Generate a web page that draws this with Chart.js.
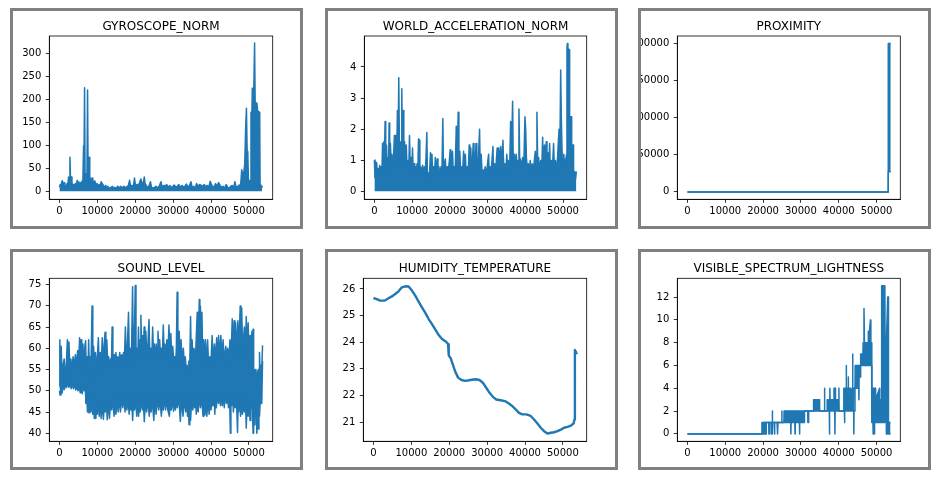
<!DOCTYPE html>
<html><head><meta charset="utf-8">
<script src="https://cdn.jsdelivr.net/npm/chart.js@4/dist/chart.umd.min.js"></script>
<style>
html,body{margin:0;padding:0;background:#fff;width:943px;height:482px;overflow:hidden;}
.panel{position:absolute;box-sizing:border-box;width:293px;height:221px;border:3px solid #808080;overflow:hidden;background:#fff}
.panel canvas{display:block}
</style></head><body>
<div class="panel" style="left:10px;top:8px"><canvas id="c1" width="287" height="215"></canvas></div>
<div class="panel" style="left:325px;top:8px"><canvas id="c2" width="287" height="215"></canvas></div>
<div class="panel" style="left:638px;top:8px"><canvas id="c3" width="287" height="215"></canvas></div>
<div class="panel" style="left:10px;top:249px"><canvas id="c4" width="287" height="215"></canvas></div>
<div class="panel" style="left:325px;top:249px"><canvas id="c5" width="287" height="215"></canvas></div>
<div class="panel" style="left:638px;top:249px"><canvas id="c6" width="287" height="215"></canvas></div>
<script>
// ---------- DATA ----------
const titles = ['GYROSCOPE_NORM','WORLD_ACCELERATION_NORM','PROXIMITY','SOUND_LEVEL','HUMIDITY_TEMPERATURE','VISIBLE_SPECTRUM_LIGHTNESS'];
const xTicks = [0,10000,20000,30000,40000,50000];

const gyroTicks = [0,50,100,150,200,250,300];
const gyroBase = 1.5;
const gyroX = [0,200,400,600,800,1000,1200,1400,1600,1800,
2000,2200,2400,2600,2770,2900,3100,3300,3500,3700,
3900,4200,4400,4700,4900,5100,5300,5600,5800,6000,
6200,6370,6450,6630,6750,6900,7100,7250,7420,7550,
7700,7850,8000,8200,8400,8600,8800,9000,9300,9600,
9900,10200,10500,10800,11000,11300,11600,11900,12200,12500,
12800,13200,13600,14000,14300,14600,15000,15400,15800,16200,
16600,17000,17400,17800,18200,18500,18800,19200,19500,19800,
20100,20500,20900,21200,21500,21800,22100,22400,22600,22900,
23200,23600,24000,24300,24700,25100,25500,25900,26300,26800,
27100,27500,27900,28300,28700,29100,29500,29900,30300,30700,
31100,31500,31900,32300,32700,33100,33500,33900,34300,34700,
35000,35400,35800,36200,36600,37000,37400,37800,38200,38600,
39000,39400,39800,40100,40400,40800,41200,41600,42000,42400,
42800,43200,43600,44000,44400,44800,45200,45600,46000,46300,
46600,47000,47400,47800,48100,48400,48700,48900,49150,49350,
49550,49700,49850,50100,50400,50550,50800,50900,51300,51500,
51650,52100,52300,52850,52950,53150,53300,53450];
const gyroY = [10,16,8,22,24,12,20,8,14,10,
18,12,32,30,75,34,32,20,12,16,
10,18,12,25,15,22,14,20,16,24,
30,100,40,225,40,30,36,30,220,45,
50,75,32,28,25,30,22,20,24,16,
18,12,16,14,22,18,14,10,14,8,
12,7,10,12,6,10,8,12,9,12,
8,12,9,11,14,25,12,14,10,30,
12,16,14,22,28,14,20,32,18,14,
10,12,22,10,8,10,12,8,12,22,
10,14,12,16,10,14,9,12,15,10,
12,16,10,14,11,12,17,10,14,22,
10,12,8,18,12,16,14,12,16,11,
14,10,23,16,12,10,18,12,20,14,
10,12,8,16,10,8,12,14,8,22,
12,10,15,12,48,35,45,60,140,181,
80,88,30,20,25,172,172,224,224,322,
192,192,175,172,15,8,12,10];

const accTicks = [0,1,2,3,4];
const accBase = 0.02;
const accX = [0,150,300,450,600,800,1000,1200,1400,1600,
1800,2000,2150,2300,2500,2650,2830,3000,3200,3400,
3600,3750,3900,4050,4250,4450,4650,4850,5050,5300,
5450,5700,5900,6100,6250,6460,6650,6850,7050,7260,
7450,7650,7800,8000,8200,8450,8650,8900,9100,9300,
9500,9700,9900,10100,10300,10500,10700,10900,11100,11300,
11500,11700,11900,12050,12300,12550,12800,13000,13300,13500,
13900,14050,14300,14550,14870,15050,15250,15450,15700,15900,
16150,16400,16650,16850,17100,17350,17650,17900,18140,18300,
18550,18800,19000,19250,19500,19800,20090,20250,20500,20700,
20900,21150,21400,21700,21900,22210,22400,22650,22850,23100,
23350,23650,23850,24100,24350,24600,24850,25130,25300,25550,
25750,26000,26200,26400,26700,26950,27150,27500,27880,28050,
28300,28550,28800,29050,29350,29600,29900,30270,30450,30700,
30950,31420,31600,31850,32100,32550,32750,33000,33250,33500,
33750,34070,34300,34550,34800,35100,35350,35600,35850,36110,
36300,36640,36800,37100,37350,37600,37850,38100,38320,38500,
38750,39000,39300,39600,39910,40100,40300,40550,40800,41050,
41300,41550,41850,42100,42400,42650,42850,43090,43300,43550,
43800,44100,44350,44600,44800,45100,45300,45550,45750,46000,
46200,46450,46650,46900,47150,47500,47700,48000,48300,48600,
48940,49150,49380,49550,49700,49800,50000,50200,50450,50700,
50950,51050,51150,51300,51600,51700,51800,52200,52300,52700,
52800,53100,53300,53540];
const accY = [1.02,0.45,0.97,0.5,0.93,0.55,0.75,0.45,0.85,0.5,
0.8,0.6,1.55,0.7,1.6,0.9,2.25,0.7,1.5,0.8,
1.1,0.7,2.2,0.9,1.55,0.8,1.2,0.7,1.0,1.8,
0.9,1.8,1.0,2.6,1.1,3.65,1.0,1.6,0.9,3.3,
1.0,2.6,1.0,1.6,0.9,1.5,0.7,1.0,0.6,1.8,
0.8,1.1,0.5,1.4,0.6,0.9,0.5,0.8,0.6,0.9,
0.6,1.7,1.65,0.6,0.8,0.5,0.85,0.6,0.8,0.5,
1.9,0.5,0.6,0.45,1.25,0.6,1.2,0.5,0.8,0.5,
1.1,0.6,1.05,0.55,0.8,0.5,0.8,0.6,2.35,0.6,
0.9,1.05,0.55,0.8,0.6,0.9,1.35,0.6,1.0,1.3,
0.6,0.8,0.55,2.1,0.8,2.55,0.8,1.3,0.55,0.8,
0.55,1.3,0.7,1.2,0.5,0.8,0.5,1.5,0.7,1.4,
0.6,1.0,1.55,0.7,1.0,1.55,0.7,0.9,2.0,0.7,
1.2,0.6,0.7,0.5,0.8,0.55,0.8,1.2,0.55,0.8,
0.6,1.45,0.6,0.9,0.6,1.4,0.7,1.4,0.8,1.45,
0.7,1.65,0.7,0.9,0.6,1.2,0.7,1.0,0.7,2.25,
1.0,2.9,1.0,1.2,0.8,1.2,0.8,1.0,2.65,1.1,
1.0,0.8,1.1,0.8,2.4,2.0,1.1,0.7,0.9,0.6,
1.0,0.6,0.9,0.6,1.0,1.3,0.7,2.55,0.8,1.1,
0.6,1.0,0.7,1.75,0.8,1.5,0.7,1.6,0.8,1.25,
0.7,1.55,0.6,1.0,0.6,1.55,0.8,1.0,0.6,1.2,
2.0,1.0,3.9,2.4,2.4,1.0,0.9,1.2,0.8,1.0,
1.2,4.6,4.75,4.6,4.55,4.4,2.4,2.4,1.5,1.5,
0.6,0.65,0.4,0.65];

const proxTicks = [0,50000,100000,150000,200000];
const proxX = [0,53050,53100,53750];
const proxHi = [0,0,200000,200000];
const proxLo = [0,0,27000,27000];

const soundTicks = [40,45,50,55,60,65,70,75];
const soundHiX = [0,100,250,450,700,950,1250,1500,1800,2100,
2300,2500,2750,3000,3300,3600,3900,4200,4500,4800,
5100,5310,5500,5700,5900,6200,6400,6700,6900,7100,
7300,7500,7700,7900,8100,8300,8600,8800,9000,9250,
9500,9750,10000,10270,10500,10750,11000,11300,11500,11750,
12040,12250,12500,12750,13000,13250,13500,13700,13900,14100,
14400,14650,14900,15150,15400,15650,15900,16150,16400,16650,
16900,17100,17400,17650,17900,18230,18450,18700,19000,19300,
19500,19750,20000,20200,20450,20700,20850,21050,21300,21500,
21700,21950,22150,22350,22550,22800,23050,23300,23630,23850,
24100,24350,24600,24850,25050,25300,25550,25800,26000,26250,
26450,26700,26900,27150,27400,27650,27850,28100,28350,28600,
28900,29150,29400,29650,29900,30150,30400,30650,30850,31060,
31250,31600,31850,32100,32350,32700,32950,33200,33450,33700,
33950,34150,34400,34600,34800,35000,35250,35500,35750,36000,
36370,36550,36700,36900,37050,37200,37400,37600,37800,38000,
38250,38500,38750,39100,39350,39700,39950,40300,40550,40900,
41150,41500,41750,42000,42300,42600,42850,43200,43450,43900,
44150,44400,44700,45000,45300,45600,45850,46100,46300,46500,
46750,47100,47350,47700,47900,48100,48350,48800,49050,49300,
49550,49800,50050,50300,50550,50800,51000,51100,51250,51400,
51600,51850,52100,52300,52500,52700,52800,53000,53200,53400,
53600];
const soundHi = [51,62,53,60.5,53,56,57.5,53.5,56,62,
54,61.5,55,57.5,55,58,55.5,58.5,56,59.5,
56.5,62.5,57,62,57,61,55,60.5,61.8,54,
58,52,62,55,58,54,70,56,60.5,56,
59,55,58,62.5,55,59,56,62.5,56,60,
63.8,57,62,56,58,55,57.5,55,65,56,
58.5,56,59,56,58,56,59,56.5,58.5,57,
59,56,65,57,60,68.5,57,60,58,74.5,
58,61,74.8,57,60,58,65,58,62,67.8,
58,63,58,65,58,64,58,60,66.8,58,
60,57,65,58,61,57,61,58,64,58,
62,57,60,58,65.5,58,61,57,62,58,
65.5,58,63.5,57,60.5,57,58,56,60,73.2,
57,64,57,62,57,60,56,58,55,56,
55,57,56,67.5,57,62,57,60,57,60,
68.5,58,62,71.5,60,70,60,68.5,58,62,
57,62,57,62,56,58,56,63,57,61,
57,62.5,57,63,58,63,58,62,57,60.5,
57,60,57,62,58,67,59,66.5,59,66,
59,66.5,59,70,60,69.5,59,65,58,67.5,
58,66,57,63,57,64,57,64.5,55,55,
52,55,50.5,54.5,55,50,59,52,56,55,
60.7];
const soundLoX = [0,150,400,700,1000,1300,1600,1900,2200,2500,
2800,3100,3400,3700,4000,4300,4600,4900,5200,5500,
5800,6000,6300,6600,6800,7000,7200,7400,7600,7800,
8000,8300,8600,8800,9000,9200,9400,9600,9800,10000,
10300,10500,10800,11000,11300,11600,11900,12100,12400,12600,
12900,13200,13500,13800,14100,14400,14700,14900,15200,15500,
15800,16100,16400,16700,17000,17300,17600,17800,18100,18400,
18700,18900,19100,19300,19600,19800,20100,20400,20700,20900,
21100,21300,21600,21900,22100,22400,22700,23000,23300,23700,
24000,24200,24500,24900,25200,25500,25800,26200,26500,26900,
27200,27400,27700,28000,28300,28600,29000,29300,29500,29800,
30100,30400,30600,30900,31100,31500,31900,32200,32600,32900,
33300,33600,33800,34000,34200,34400,34600,34900,35200,35500,
35700,36000,36100,36400,36600,36900,37200,37500,37900,38100,
38400,38700,38900,39200,39500,39800,40000,40300,40500,40800,
41000,41200,41400,41700,42000,42300,42500,42800,43000,43300,
43500,43800,44100,44400,44600,44900,45100,45250,45400,45700,
45900,46200,46400,46700,47000,47150,47300,47600,47800,48100,
48300,48600,48800,49100,49300,49500,49800,50100,50300,50500,
50700,50900,51100,51250,51400,51600,51800,51950,52100,52300,
52500,52650,52800,53000,53100,53300,53400,53600];
const soundLo = [50,49,50.5,49.5,51,50.3,51.5,50.8,52,50.8,
52,50.5,51.5,50.5,51.5,50.2,51,50,51,49.5,
50.5,49.3,51,50,51,47,49,45,48,44.8,
48,45,48,44.5,47.5,43.5,47,43.5,47.5,44.5,
48,44,47.5,43.5,47,43.3,47.5,45,48,43.2,
47.5,43.5,47.5,45.5,48.5,44,48,44.5,48,45,
48.5,45,48.5,46,49,45,48.5,45.5,48.5,44.5,
48,45.5,48,43,48,45.5,48,44,47.5,44,
48,45,48,45.5,48,42.7,48,45,48,44,
48,45,48,43,48,44.5,48,45.5,48,44,
48,45.5,48.5,45.5,48,45.5,44,48,45.5,48.5,
45.2,48.5,45.5,48.5,46,48.5,42.8,48,44,48,
45,48,44,47.5,42,47,43,48,45.5,48.5,
46,48.5,44.5,48.5,45,49,46,48.5,44,48,
44.3,48,44,48,44.5,48.5,45.5,48.5,46.5,49,
44.5,48.5,46,49,47,49.5,46.5,49.5,46.5,49.5,
46,49.5,47,49.5,46,49,40,48,46.5,49,
45,49,46,48.5,40.2,47,45,48.5,44,48,
44.5,48,45,48,41.2,47,44,47.5,43,47,
46,47,40,45,42,46,44,46,40,45,
41,46,44,48,47,49,47,57];

const humTicks = [21,22,23,24,25,26];
const humX = [0,880,1770,2910,3970,4860,5740,6620,7500,8390,
9270,10150,11040,11920,12800,13690,14570,15450,16340,17220,
18100,19160,19690,19870,20400,20930,21630,22340,23220,24280,
25610,26930,27990,28870,29760,30640,31520,32410,33550,34700,
35760,36650,37530,38410,39290,40350,41500,42380,43270,44150,
45030,45920,46800,47680,48570,49450,50330,51210,52100,52800,
53070,53160,53420,53690];
const humY = [25.66,25.62,25.56,25.56,25.65,25.72,25.81,25.91,26.06,26.1,
26.09,25.94,25.75,25.52,25.31,25.1,24.87,24.68,24.47,24.27,
24.12,24.02,23.93,23.51,23.39,23.17,22.88,22.67,22.58,22.55,
22.58,22.61,22.58,22.48,22.29,22.1,21.95,21.85,21.82,21.79,
21.7,21.6,21.48,21.35,21.29,21.29,21.23,21.1,20.95,20.79,
20.66,20.57,20.6,20.62,20.66,20.72,20.79,20.82,20.87,20.95,
21.1,23.71,23.64,23.55];

const visTicks = [0,2,4,6,8,10,12];
const visHiX = [0,19650,19700,22400,22450,22500,24900,24950,25000,25500,
25550,33300,33350,34900,34950,36200,36240,36300,36900,36950,
37600,37660,37720,38700,38750,39100,39150,40000,40050,40100,
41300,41350,41950,41990,42050,42500,42520,42580,43100,43150,
43600,43670,43750,44300,44350,45300,45350,45750,45800,46400,
46450,46680,46800,47750,47800,47850,48400,48500,48700,48750,
49700,49750,50800,50850,51300,51350,52200,52250,52600,52950,
53100,53150,53700];
const visHi = [0,0,1,1,2,1,1,2,1,1,
2,2,3,3,2,2,4,2,2,3,
3,4,3,3,4,4,3,3,4,2,
2,4,4,6,4,4,5,4,4,3,
4,7,4,4,6,6,5,5,7,7,
8,11,8,8,9,8,10,8,8,4,
4,3,4,3,3,13,13,8,8,12,
12,1,1];
const visLoX = [0,19650,19700,20300,20350,20550,20600,20800,20850,21500,
21550,21700,21750,22200,22250,22400,22450,22900,22950,23100,
23150,23700,23750,23900,23950,27300,27350,27400,28400,28450,
28500,29600,29650,29700,30900,30950,31800,31850,32000,32050,
37500,37550,37600,38950,39000,39050,41500,41550,41600,43950,
44000,44050,44300,45300,45350,45400,48700,48750,49050,49100,
49150,49400,49450,49500,51300,52200,52250,52550,52600,52900,
53100,53150,53700];
const visLo = [0,0,0,0,1,1,0,0,1,1,
0,0,1,1,0,0,1,1,0,0,
1,1,0,0,1,1,0,1,1,0,
1,1,0,1,1,2,2,1,1,2,
2,0,2,2,0,2,2,1,2,2,
0,2,4,4,3,6,6,1,1,0,
1,1,0,1,1,1,3,3,0,0,
0,0,0];

// ---------- RENDERING ----------
const BLUE = '#1f77b4';
const FONT = "'DejaVu Sans', sans-serif";
const xMin = -2680, xMax = 56280;
const pts = (xs, ys) => xs.map((x, i) => ({x: x, y: ys[i]}));

const framePlugin = {
  id: 'frame',
  afterDraw(chart) {
    const a = chart.chartArea, ctx = chart.ctx;
    ctx.save();
    ctx.strokeStyle = '#000';
    ctx.lineWidth = 0.8;
    ctx.strokeRect(a.left, a.top, a.right - a.left, a.bottom - a.top);
    ctx.restore();
  }
};

function axis(min, max, ticks, isX, size) {
  return {
    type: 'linear', min: min, max: max,
    afterBuildTicks: s => { s.ticks = ticks.map(v => ({value: v})); },
    afterFit: s => { if (isX) s.height = size; else s.width = size; },
    grid: { display: true, drawOnChartArea: false, drawTicks: true, tickLength: 3.5, tickWidth: 0.8, tickColor: '#000' },
    border: { display: true, color: '#000', width: 0.8 },
    ticks: { color: '#000', font: { family: FONT, size: 10 }, padding: isX ? 3 : 4.5,
             maxRotation: 0, minRotation: 0, autoSkip: false, callback: v => String(v) }
  };
}

function lineDs(data, extra) {
  return Object.assign({ data: data, borderColor: BLUE, backgroundColor: BLUE, borderWidth: 1.5,
    pointRadius: 0, tension: 0, borderJoinStyle: 'round', fill: false }, extra || {});
}

function makeChart(id, title, row, yMin, yMax, yTicks, datasets, yW, rPad) {
  const tTop = row === 0 ? 8.5 : 10.1;
  const tBot = row === 0 ? 2.1 : 1.8;
  const xH = row === 0 ? 26.7 : 25.7;
  new Chart(document.getElementById(id), {
    type: 'line',
    data: { datasets: datasets },
    options: {
      responsive: false, animation: false, events: [],
      layout: { padding: { left: 0, right: rPad, top: 0, bottom: 0 } },
      plugins: {
        legend: { display: false }, tooltip: { enabled: false },
        title: { display: true, text: title, fullSize: false, color: '#000',
                 font: { family: FONT, size: 12, weight: 'normal', lineHeight: 1.2 },
                 padding: { top: tTop, bottom: tBot } }
      },
      scales: {
        x: axis(xMin, xMax, xTicks, true, xH),
        y: axis(yMin, yMax, yTicks, false, yW)
      }
    },
    plugins: [framePlugin]
  });
}

makeChart('c1', titles[0], 0, -16, 337, gyroTicks,
  [lineDs(pts(gyroX, gyroY), { fill: { value: gyroBase } })], 36.3, 27.3);
makeChart('c2', titles[1], 0, -0.24, 4.99, accTicks,
  [lineDs(pts(accX, accY), { fill: { value: accBase } })], 36.3, 28.3);
makeChart('c3', titles[2], 0, -10000, 210000, proxTicks,
  [lineDs(pts(proxX, proxLo)), lineDs(pts(proxX, proxHi), { fill: '-1' })], 36.3, 27.7);
makeChart('c4', titles[3], 1, 38.1, 76.5, soundTicks,
  [lineDs(pts(soundLoX, soundLo)), lineDs(pts(soundHiX, soundHi), { fill: '-1' })], 36.3, 27.3);
makeChart('c5', titles[4], 1, 20.28, 26.4, humTicks,
  [lineDs(pts(humX, humY), { borderWidth: 2.4 })], 35.3, 28.3);
makeChart('c6', titles[5], 1, -0.65, 13.65, visTicks,
  [lineDs(pts(visLoX, visLo)), lineDs(pts(visHiX, visHi), { fill: '-1' })], 36.3, 27.7);
</script>
</body></html>
